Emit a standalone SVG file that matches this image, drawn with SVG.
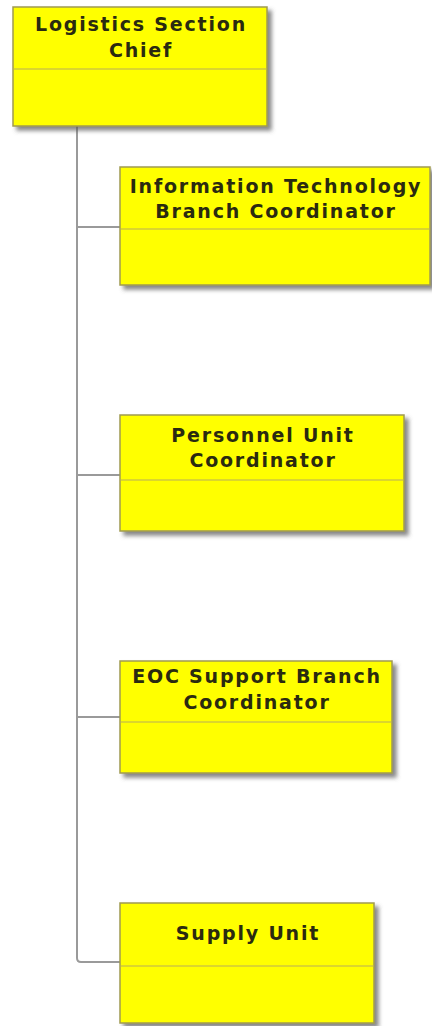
<svg xmlns="http://www.w3.org/2000/svg" width="432" height="1026" viewBox="0 0 432 1026">
<style>
.box{fill:#ffff00;stroke:#a09a50;stroke-width:1.5}
.div{stroke:#b8ad5a;stroke-width:1.2}
.t{font-family:"DejaVu Sans",Verdana,sans-serif;font-weight:bold;font-size:19px;letter-spacing:1.8px;fill:#2a2a10;text-anchor:middle}
.con{fill:none;stroke:#9a9a9a;stroke-width:2}
</style>
<defs>
<filter id="sh" x="-10%" y="-10%" width="130%" height="140%">
<feGaussianBlur in="SourceAlpha" stdDeviation="2"/>
<feOffset dx="4" dy="4" result="b"/>
<feFlood flood-color="#555" flood-opacity="0.7"/>
<feComposite in2="b" operator="in"/>
<feMerge><feMergeNode/><feMergeNode in="SourceGraphic"/></feMerge>
</filter>
</defs>
<rect width="432" height="1026" fill="#fff"/>
<g id="connectors">
<path class="con" d="M77,126 V958 Q77,962 81,962 H120"/>
<line class="con" x1="77" y1="227" x2="120" y2="227"/>
<line class="con" x1="77" y1="475" x2="120" y2="475"/>
<line class="con" x1="77" y1="717" x2="120" y2="717"/>
</g>
<g id="logistics-chief">
<rect class="box" x="13" y="7" width="254" height="119" filter="url(#sh)"/>
<line class="div" x1="13" y1="69" x2="267" y2="69"/>
<text class="t" x="141" y="31">Logistics Section</text>
<text class="t" x="141" y="57">Chief</text>
</g>
<g id="it-branch">
<rect class="box" x="120" y="167" width="310" height="118" filter="url(#sh)"/>
<line class="div" x1="120" y1="229" x2="430" y2="229"/>
<text class="t" x="276" y="193">Information Technology</text>
<text class="t" x="276" y="218">Branch Coordinator</text>
</g>
<g id="personnel-unit">
<rect class="box" x="120" y="415" width="284" height="116" filter="url(#sh)"/>
<line class="div" x1="120" y1="480" x2="404" y2="480"/>
<text class="t" x="263" y="442">Personnel Unit</text>
<text class="t" x="263" y="467">Coordinator</text>
</g>
<g id="eoc-support">
<rect class="box" x="120" y="661" width="272" height="112" filter="url(#sh)"/>
<line class="div" x1="120" y1="722" x2="392" y2="722"/>
<text class="t" x="257" y="683">EOC Support Branch</text>
<text class="t" x="257" y="709">Coordinator</text>
</g>
<g id="supply-unit">
<rect class="box" x="120" y="903" width="254" height="120" filter="url(#sh)"/>
<line class="div" x1="120" y1="966" x2="374" y2="966"/>
<text class="t" x="248" y="940">Supply Unit</text>
</g>
</svg>
